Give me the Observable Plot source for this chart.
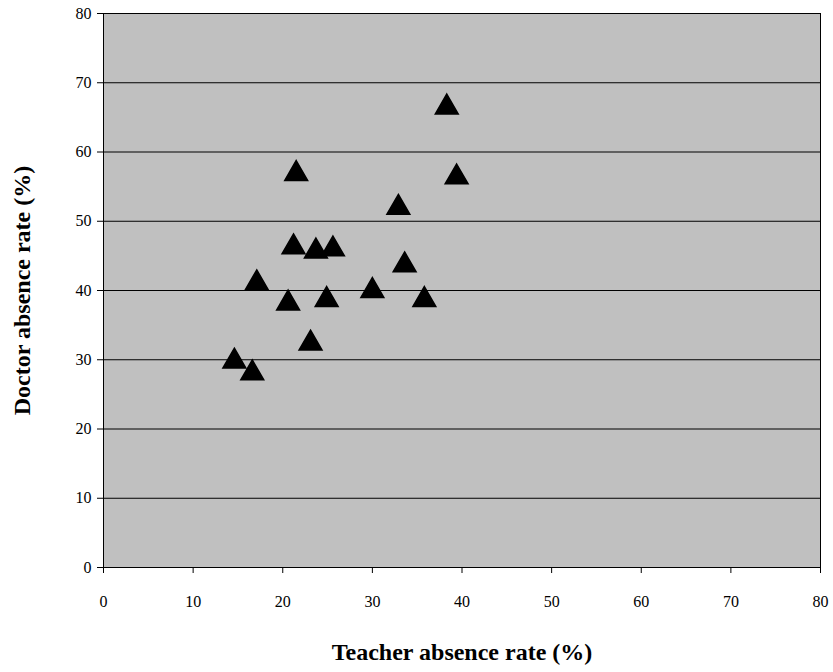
<!DOCTYPE html>
<html><head>
<script src="https://cdn.jsdelivr.net/npm/d3@7"></script>
<script src="https://cdn.jsdelivr.net/npm/@observablehq/plot@0.6"></script>
<style>body{margin:0;background:#fff}</style>
</head><body>
<div id="c"></div>
<script>
const teacher = [14.6,16.6,17.1,20.6,21.2,21.5,23.1,23.7,25.6,24.9,30.0,32.9,33.6,35.8,38.3,39.4];
const doctor  = [29.9,28.2,41.2,38.3,46.4,57.0,32.5,45.8,46.1,38.8,40.1,52.1,43.8,38.8,66.6,56.5];
const ticks = [0,10,20,30,40,50,60,70,80];
const data = teacher.map((t,i)=>({t, d: doctor[i]}));
const chart = Plot.plot({
  width: 833, height: 672,
  marginLeft: 103, marginRight: 13, marginTop: 13, marginBottom: 105,
  style: {fontFamily: "'Liberation Serif', serif", fontSize: "16px", color: "#000", background: "#fff"},
  x: {domain: [0,80], ticks, tickSize: 6, tickPadding: 22, label: "Teacher absence rate (%)", labelAnchor: "center", labelArrow: "none", labelOffset: 92},
  y: {domain: [0,80], ticks, tickSize: 6, tickPadding: 6, label: "Doctor absence rate (%)", labelAnchor: "center", labelArrow: "none", labelOffset: 91},
  marks: [
    Plot.frame({fill: "#c0c0c0", stroke: "none"}),
    Plot.gridY(ticks, {stroke: "#000", strokeOpacity: 1, strokeWidth: 1}),
    Plot.frame({stroke: "#000", strokeWidth: 1}),
    Plot.dot(data, {x: "t", y: "d", symbol: "triangle", r: 8.5, fill: "#000", stroke: "#000", dy: 1})
  ]
});
chart.querySelectorAll("[aria-label='x-axis label'] text, [aria-label='y-axis label'] text").forEach(t=>{t.style.fontSize="24px";t.style.fontWeight="bold";});
document.getElementById("c").appendChild(chart);
</script>
</body></html>
